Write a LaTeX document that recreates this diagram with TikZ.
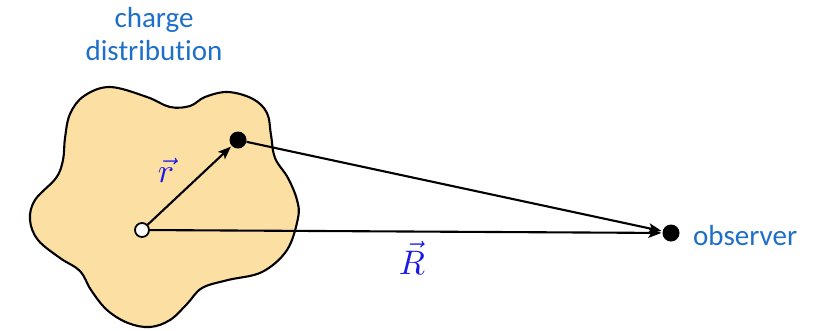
\documentclass[tikz,border=0pt]{standalone}
\usepackage{fontspec}
\setsansfont[Ligatures=NoCommon]{Carlito}
\usetikzlibrary{arrows.meta}
\definecolor{blobfill}{HTML}{FCDFA3}
\definecolor{txtblue}{HTML}{1E6FC8}
\definecolor{mathblue}{HTML}{1A1AE8}
\begin{document}
\begin{tikzpicture}[x=1pt,y=-1pt,
  lbl/.style={font=\sffamily\fontsize{29}{33}\selectfont,text=txtblue,inner sep=0pt},
  mlbl/.style={text=mathblue,inner sep=0pt},
  vec/.style={line width=2.1pt,-{Stealth[length=13pt,width=10pt,inset=3pt]},shorten >=1pt},
  bigdot/.style={circle,fill=black,minimum size=17pt,inner sep=0pt},
  hollow/.style={circle,draw=black,fill=white,line width=1.8pt,minimum size=14pt,inner sep=0pt}]
\useasboundingbox (0,0) rectangle (826,330);
\fill[white] (0,0) rectangle (826,330);
% charge distribution blob
\draw[line width=2.1pt,fill=blobfill] plot[smooth cycle,tension=0.6] coordinates {
 (110,87) (147,97) (170,107) (190,106) (205,97) (228,92) (253,99) (267,113)
 (271,135) (275,158) (288,178) (297,200) (298,218) (287,250) (262,272)
 (228,280) (202,288) (187,304) (170,320) (150,327) (128,323) (107,310)
 (91,290) (80,271) (60,258) (38,240) (30,220) (35,200) (56,178) (63,160)
 (65,138) (70,114) (84,96)};
% points
\node[hollow] (O) at (142,230) {};
\node[bigdot] (P) at (238,140) {};
\node[bigdot] (Obs) at (671,233) {};
% vectors
\draw[vec] (O) -- (P);
\draw[vec] (P) -- (Obs);
\draw[vec] (O) -- (Obs);
% labels
\node[lbl,align=center] (cd) at (154,34) {charge\\distribution};
\node[lbl,anchor=base west] (obslbl) at (693,245) {observer};
\node[mlbl] (rl) at (166,170) {\scalebox{3.4}{$\vec{r}$}};
\node[mlbl] (Rl) at (412,258) {\scalebox{3.4}{$\vec{R}$}};
\end{tikzpicture}
\end{document}
